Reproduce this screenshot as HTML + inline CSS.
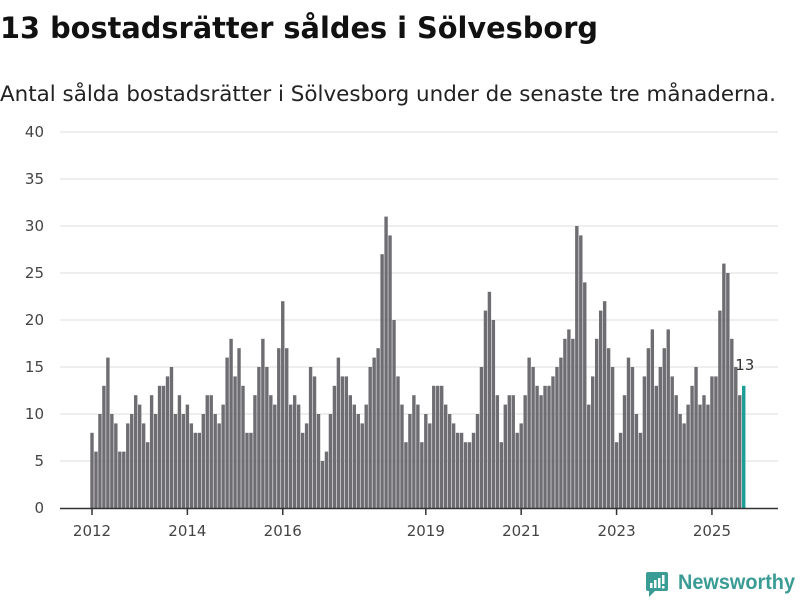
<!DOCTYPE html>
<html><head><meta charset="utf-8"><style>
body{margin:0;background:#fff;width:800px;height:600px;overflow:hidden;font-family:"Liberation Sans","DejaVu Sans",sans-serif}
</style></head><body>
<svg width="800" height="600" xmlns="http://www.w3.org/2000/svg">
<text x="0" y="38" font-size="29" font-weight="bold" fill="#111" font-family="DejaVu Sans, sans-serif" textLength="598" lengthAdjust="spacingAndGlyphs">13 bostadsrätter såldes i Sölvesborg</text>
<text x="0" y="101" font-size="21" fill="#222" font-family="DejaVu Sans, sans-serif" textLength="776" lengthAdjust="spacingAndGlyphs">Antal sålda bostadsrätter i Sölvesborg under de senaste tre månaderna.</text>
<g id="grid"></g><g id="bars"></g><g id="axis"></g>
<g>
<rect x="646" y="572" width="22" height="19" rx="2" fill="#3a9c94"/>
<polygon points="649,591 655,591 649,597" fill="#3a9c94"/>
<rect x="650" y="583" width="2.5" height="5" fill="#fff"/><rect x="654" y="580" width="2.5" height="8" fill="#fff"/><rect x="658" y="578" width="2.5" height="10" fill="#fff"/><rect x="662" y="575" width="2.5" height="9" fill="#fff"/><rect x="662" y="586" width="2.5" height="2.5" fill="#fff"/>
<text x="678" y="589" font-size="21" font-weight="bold" fill="#3a9c94" font-family="Liberation Sans, sans-serif" textLength="117" lengthAdjust="spacingAndGlyphs">Newsworthy</text>
</g>
</svg>
<script>
const values=[8,6,10,13,16,10,9,6,6,9,10,12,11,9,7,12,10,13,13,14,15,10,12,10,11,9,8,8,10,12,12,10,9,11,16,18,14,17,13,8,8,12,15,18,15,12,11,17,22,17,11,12,11,8,9,15,14,10,5,6,10,13,16,14,14,12,11,10,9,11,15,16,17,27,31,29,20,14,11,7,10,12,11,7,10,9,13,13,13,11,10,9,8,8,7,7,8,10,15,21,23,20,12,7,11,12,12,8,9,12,16,15,13,12,13,13,14,15,16,18,19,18,30,29,24,11,14,18,21,22,17,15,7,8,12,16,15,10,8,14,17,19,13,15,17,19,14,12,10,9,11,13,15,11,12,11,14,14,21,26,25,18,15,12,13];
const yTicks=[0,5,10,15,20,25,30,35,40];
const yearLabels=["2012","2014","2016","2019","2021","2023","2025"];
const yearIndex=[0,24,48,84,108,132,156];
const NS="http://www.w3.org/2000/svg";
function x(i){return 92+i*3.974;}
function y(v){return 508-v*9.4;}
function mk(t,a,p){const e=document.createElementNS(NS,t);for(const k in a)e.setAttribute(k,a[k]);p.appendChild(e);return e;}
const grid=document.getElementById('grid'),bars=document.getElementById('bars'),axis=document.getElementById('axis');
yTicks.forEach(v=>{
 if(v>0){const l=mk('line',{x1:60,x2:778,y1:y(v),y2:y(v),stroke:'#dcdcdc','stroke-width':1},grid);
 
 }
 const t=mk('text',{x:44,y:y(v)+5,'text-anchor':'end','font-size':15,fill:'#444','font-family':'DejaVu Sans, sans-serif'},axis);
 t.textContent=v;
 
 
});
values.forEach((v,i)=>{
 const last=i===values.length-1;
 const r=mk('rect',{x:x(i)-1.7,y:y(v),width:3.4,height:v*9.4,fill:last?'#1a9e96':'#6e6d72'},bars);
 
 
 if(last){const t=mk('text',{x:x(i)+1,y:y(v)-16,'text-anchor':'middle','font-size':15,fill:'#333','font-family':'DejaVu Sans, sans-serif'},bars);
 t.textContent=v;
 
 }
});
const b=mk('line',{x1:60,x2:778,y1:508.5,y2:508.5,stroke:'#333','stroke-width':1.5},axis);


yearLabels.forEach((lab,k)=>{
 const xx=x(yearIndex[k]);
 const tk=mk('line',{x1:xx,x2:xx,y1:508,y2:515,stroke:'#333','stroke-width':1.5},axis);
 
 
 const t=mk('text',{x:xx,y:536,'text-anchor':'middle','font-size':15,fill:'#444','font-family':'DejaVu Sans, sans-serif'},axis);
 t.textContent=lab;
 
 
});
</script>
</body></html>
